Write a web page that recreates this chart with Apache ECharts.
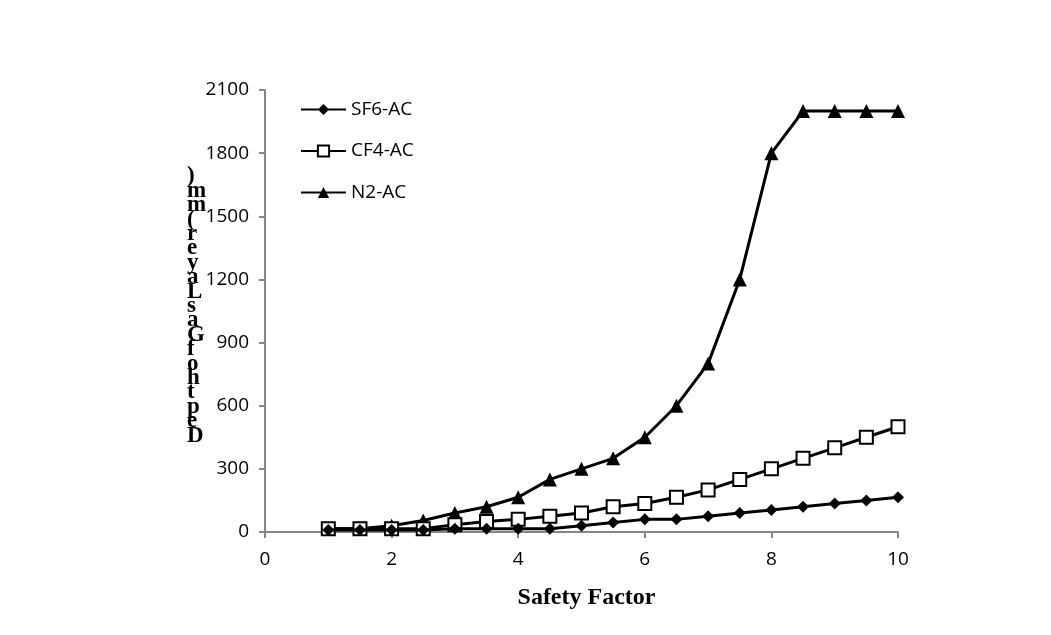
<!DOCTYPE html>
<html>
<head>
<meta charset="utf-8">
<script src="https://cdn.jsdelivr.net/npm/echarts@6/dist/echarts.min.js"></script>
<style>
  html, body { margin: 0; padding: 0; background: #fff; }
  #main { width: 1051px; height: 635px; }
</style>
</head>
<body>
<div id="main"></div>
<script>
// safety factor values
var safety = [1, 1.5, 2, 2.5, 3, 3.5, 4, 4.5, 5, 5.5, 6, 6.5, 7, 7.5, 8, 8.5, 9, 9.5, 10];
// depth of gas layer (mm)
var sf6 = [10, 10, 10, 10, 15, 15, 15, 15, 30, 45, 60, 60, 75, 90, 105, 120, 135, 150, 165];
var cf4 = [15, 15, 15, 15, 35, 50, 60, 75, 90, 120, 135, 165, 200, 250, 300, 350, 400, 450, 500];
var n2 = [15, 15, 30, 55, 90, 120, 165, 250, 300, 350, 450, 600, 800, 1200, 1800, 2000, 2000, 2000, 2000];
var seriesNames = ['SF6-AC', 'CF4-AC', 'N2-AC'];
var yTitle = 'Depth of Gas Layer (mm)';

function pairs(ys) {
  var out = [];
  for (var i = 0; i < safety.length; i++) {
    out.push([safety[i], ys[i]]);
  }
  return out;
}

// the y title is drawn one letter per row, bottom to top
var yChars = yTitle.replace(/ /g, '').split('').reverse().join('\n');

var chart = echarts.init(document.getElementById('main'));

var labelFont = { color: '#000', fontSize: 19, fontFamily: 'Open Sans' };

var option = {
  backgroundColor: '#fff',
  animation: false,
  grid: { left: 265, right: 153, top: 90, bottom: 103 },
  legend: {
    orient: 'vertical',
    left: 300,
    top: 100,
    padding: 0,
    itemWidth: 45,
    itemHeight: 14,
    itemGap: 22.5,
    textStyle: { color: '#000', fontSize: 19, fontFamily: 'Open Sans' },
    data: seriesNames
  },
  xAxis: {
    type: 'value',
    min: 0,
    max: 10,
    interval: 2,
    name: 'Safety Factor',
    nameLocation: 'middle',
    nameGap: 54,
    nameTextStyle: {
      color: '#000', fontSize: 24, fontWeight: 'bold', fontFamily: 'Liberation Serif',
      padding: [0, 0, 0, 10]
    },
    splitLine: { show: false },
    axisLine: { lineStyle: { color: '#868686', width: 2 } },
    axisTick: { show: true, length: 6, lineStyle: { color: '#868686', width: 2 } },
    axisLabel: Object.assign({ margin: 18 }, labelFont)
  },
  yAxis: {
    type: 'value',
    min: 0,
    max: 2100,
    interval: 300,
    splitLine: { show: false },
    axisLine: { show: true, lineStyle: { color: '#868686', width: 2 } },
    axisTick: { show: true, length: 6, lineStyle: { color: '#868686', width: 2 } },
    axisLabel: Object.assign({ margin: 16, formatter: function (v) { return String(v); } }, labelFont)
  },
  graphic: [{
    type: 'text',
    left: 187,
    top: 165,
    style: {
      text: yChars,
      fill: '#000',
      font: 'bold 23px "Liberation Serif"',
      lineHeight: 14.4,
      align: 'center'
    }
  }],
  series: [{
    name: seriesNames[0],
    type: 'line',
    data: pairs(sf6),
    symbol: 'diamond',
    symbolSize: 12,
    lineStyle: { color: '#000', width: 3 },
    itemStyle: { color: '#000', borderWidth: 0 },
    z: 4
  }, {
    name: seriesNames[1],
    type: 'line',
    data: pairs(cf4),
    symbol: 'rect',
    symbolSize: 13,
    lineStyle: { color: '#000', width: 3 },
    itemStyle: { color: '#fff', borderColor: '#000', borderWidth: 2 },
    z: 3
  }, {
    name: seriesNames[2],
    type: 'line',
    data: pairs(n2),
    symbol: 'triangle',
    symbolSize: 14,
    lineStyle: { color: '#000', width: 3 },
    itemStyle: { color: '#000', borderWidth: 0 },
    z: 2
  }]
};

chart.setOption(option);
</script>
</body>
</html>
